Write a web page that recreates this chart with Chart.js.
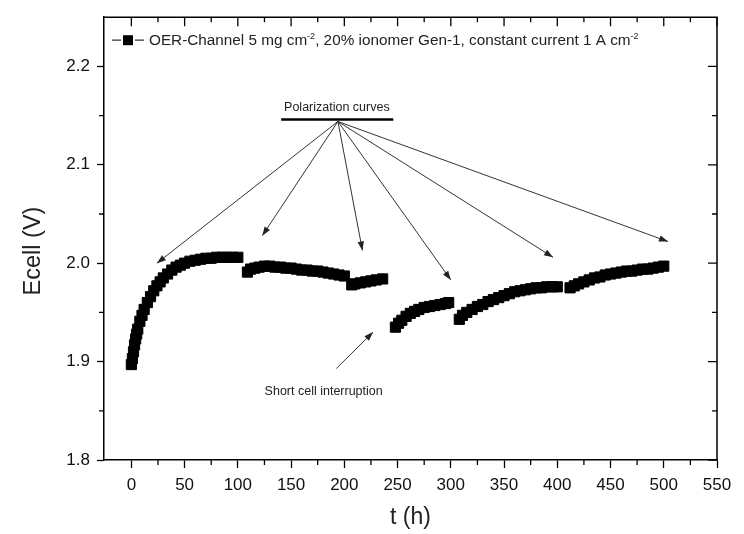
<!DOCTYPE html>
<html lang="en">
  <head>
    <meta charset="UTF-8" />
    <title>Ecell vs t - OER-Channel durability</title>
    <script src="https://cdn.jsdelivr.net/npm/chart.js"></script>
    <style>
      html,
      body {
        margin: 0;
        padding: 0;
        background: #fff;
      }
    </style>
  </head>
  <body>
    <canvas id="ecellChart" width="744" height="534"></canvas>

    <script>
      // time (h) and cell voltage (V), one pair of arrays per run segment
      const tSeg1 = [0, 1, 2, 3, 4, 5, 6, 8, 10, 12, 15, 18, 21, 24, 27, 30, 34, 38, 42, 46, 50, 55, 60, 65, 70, 75, 80, 85, 90, 95, 100];
      const vSeg1 = [1.897, 1.903, 1.91, 1.917, 1.923, 1.928, 1.933, 1.941, 1.947, 1.953, 1.96, 1.966, 1.972, 1.977, 1.981, 1.985, 1.989, 1.993, 1.996, 1.998, 2.0, 2.002, 2.003, 2.004, 2.005, 2.005, 2.006, 2.006, 2.006, 2.006, 2.006];

      const tSeg2 = [109, 112, 116, 120, 125, 130, 135, 140, 145, 150, 155, 160, 165, 170, 175, 180, 185, 190, 195, 200];
      const vSeg2 = [1.991, 1.994, 1.995, 1.996, 1.997, 1.997, 1.996, 1.996, 1.995, 1.995, 1.994, 1.993, 1.993, 1.992, 1.992, 1.991, 1.99, 1.989, 1.988, 1.987];

      const tSeg3 = [207, 210, 215, 220, 225, 230, 236];
      const vSeg3 = [1.978, 1.979, 1.98, 1.981, 1.982, 1.983, 1.984];

      const tSeg4 = [248, 251, 254, 258, 262, 266, 270, 275, 280, 285, 290, 295, 298];
      const vSeg4 = [1.935, 1.939, 1.942, 1.946, 1.949, 1.951, 1.953, 1.955, 1.956, 1.957, 1.958, 1.959, 1.96];

      const tSeg5 = [308, 311, 315, 320, 325, 330, 335, 340, 345, 350, 355, 360, 365, 370, 375, 380, 385, 390, 395, 400];
      const vSeg5 = [1.943, 1.947, 1.95, 1.953, 1.956, 1.958, 1.961, 1.963, 1.965, 1.967, 1.969, 1.971, 1.972, 1.973, 1.974, 1.975, 1.975, 1.976, 1.976, 1.976];

      const tSeg6 = [412, 416, 420, 425, 430, 435, 440, 445, 450, 455, 460, 465, 470, 475, 480, 485, 490, 495, 500];
      const vSeg6 = [1.975, 1.977, 1.979, 1.981, 1.983, 1.985, 1.986, 1.988, 1.989, 1.99, 1.991, 1.992, 1.992, 1.993, 1.994, 1.994, 1.995, 1.996, 1.997];

      const xTicks = [0, 50, 100, 150, 200, 250, 300, 350, 400, 450, 500, 550];
      const yTicks = [1.8, 1.9, 2.0, 2.1, 2.2];
      const xMinor = [25, 75, 125, 175, 225, 275, 325, 375, 425, 475, 525];
      const yMinor = [1.85, 1.95, 2.05, 2.15];

      // annotation arrows (data coordinates)
      const polOrigin = [194, 2.144];
      const polTipsT = [24, 123, 217, 300, 396, 504];
      const polTipsV = [2.0, 2.028, 2.013, 1.983, 2.006, 2.022];
      const shortFrom = [192.5, 1.893];
      const shortTo = [227, 1.93];

      const legendParts = [
        { t: "OER-Channel 5 mg cm" },
        { t: "-2", sup: true },
        { t: ", 20% ionomer Gen-1, constant current 1 A cm" },
        { t: "-2", sup: true },
      ];

      const FONT = "Arial, 'Liberation Sans', sans-serif";

      const segments = [
        [tSeg1, vSeg1],
        [tSeg2, vSeg2],
        [tSeg3, vSeg3],
        [tSeg4, vSeg4],
        [tSeg5, vSeg5],
        [tSeg6, vSeg6],
      ];
      const points = segments.flatMap(([ts, vs]) => ts.map((t, i) => ({ x: t, y: vs[i] })));

      function drawArrow(ctx, x0, y0, x1, y1) {
        ctx.beginPath();
        ctx.moveTo(x0, y0);
        ctx.lineTo(x1, y1);
        ctx.stroke();
        const a = Math.atan2(y1 - y0, x1 - x0);
        const L = 9,
          W = 3.2;
        const c = Math.cos(a),
          s = Math.sin(a);
        ctx.beginPath();
        ctx.moveTo(x1, y1);
        ctx.lineTo(x1 - L * c + W * s, y1 - L * s - W * c);
        ctx.lineTo(x1 - L * c - W * s, y1 - L * s + W * c);
        ctx.closePath();
        ctx.fill();
      }

      function drawRich(ctx, x, y, parts, size) {
        ctx.textAlign = "left";
        ctx.textBaseline = "alphabetic";
        parts.forEach((p) => {
          const sz = p.sup ? Math.round(size * 0.62) : size;
          ctx.font = sz + "px " + FONT;
          ctx.fillText(p.t, x, p.sup ? y - size * 0.42 : y);
          x += ctx.measureText(p.t).width;
        });
      }

      const decorPlugin = {
        id: "decor",
        afterDraw(chart) {
          const { ctx, chartArea: ca, scales } = chart;
          const xs = scales.x,
            ys = scales.y;
          ctx.save();
          ctx.strokeStyle = "#000";
          ctx.fillStyle = "#000";

          // top and right frame
          ctx.lineWidth = 1.5;
          ctx.beginPath();
          ctx.moveTo(ca.left, ca.top);
          ctx.lineTo(ca.right, ca.top);
          ctx.lineTo(ca.right, ca.bottom);
          ctx.stroke();

          // inward ticks on top and right, outward minor ticks bottom/left
          ctx.lineWidth = 1.3;
          ctx.beginPath();
          xTicks.forEach((v) => {
            const px = xs.getPixelForValue(v);
            ctx.moveTo(px, ca.top);
            ctx.lineTo(px, ca.top + 9);
          });
          xMinor.forEach((v) => {
            const px = xs.getPixelForValue(v);
            ctx.moveTo(px, ca.top);
            ctx.lineTo(px, ca.top + 5);
            ctx.moveTo(px, ca.bottom);
            ctx.lineTo(px, ca.bottom + 5);
          });
          yTicks.forEach((v) => {
            const py = ys.getPixelForValue(v);
            ctx.moveTo(ca.right, py);
            ctx.lineTo(ca.right - 9, py);
          });
          yMinor.forEach((v) => {
            const py = ys.getPixelForValue(v);
            ctx.moveTo(ca.right, py);
            ctx.lineTo(ca.right - 5, py);
            ctx.moveTo(ca.left, py);
            ctx.lineTo(ca.left - 5, py);
          });
          ctx.stroke();

          // legend inside plot: -■- sample then text
          const ly = ca.top + 23;
          ctx.lineWidth = 1.2;
          ctx.strokeStyle = "#333";
          ctx.beginPath();
          ctx.moveTo(ca.left + 8, ly);
          ctx.lineTo(ca.left + 17, ly);
          ctx.moveTo(ca.left + 31, ly);
          ctx.lineTo(ca.left + 40, ly);
          ctx.stroke();
          ctx.fillRect(ca.left + 19, ly - 5, 10, 10);
          ctx.fillStyle = "#222";
          drawRich(ctx, ca.left + 45, ly + 5, legendParts, 15.3);

          // polarization curve arrows
          ctx.fillStyle = "#222";
          ctx.strokeStyle = "#333";
          ctx.lineWidth = 1;
          const ox = xs.getPixelForValue(polOrigin[0]),
            oy = ys.getPixelForValue(polOrigin[1]);
          polTipsT.forEach((t, i) => {
            drawArrow(ctx, ox, oy, xs.getPixelForValue(t), ys.getPixelForValue(polTipsV[i]));
          });
          ctx.strokeStyle = "#000";
          ctx.lineWidth = 2.5;
          ctx.beginPath();
          ctx.moveTo(xs.getPixelForValue(140.7), ys.getPixelForValue(2.146));
          ctx.lineTo(xs.getPixelForValue(246), ys.getPixelForValue(2.146));
          ctx.stroke();
          ctx.font = "12.5px " + FONT;
          ctx.textAlign = "center";
          ctx.textBaseline = "alphabetic";
          ctx.fillText("Polarization curves", xs.getPixelForValue(193), ys.getPixelForValue(2.1545));

          // short cell interruption
          ctx.strokeStyle = "#333";
          ctx.lineWidth = 1;
          drawArrow(
            ctx,
            xs.getPixelForValue(shortFrom[0]),
            ys.getPixelForValue(shortFrom[1]),
            xs.getPixelForValue(shortTo[0]),
            ys.getPixelForValue(shortTo[1])
          );
          ctx.font = "12.5px " + FONT;
          ctx.fillText("Short cell interruption", xs.getPixelForValue(180.6), ys.getPixelForValue(1.866));

          // y axis title
          ctx.fillStyle = "#222";
          ctx.font = "23.5px " + FONT;
          ctx.translate(34, 251);
          ctx.rotate(-Math.PI / 2);
          ctx.textBaseline = "middle";
          ctx.fillText("Ecell (V)", 0, 0);
          ctx.restore();
        },
      };

      const ctx = document.getElementById("ecellChart").getContext("2d");
      new Chart(ctx, {
        type: "scatter",
        data: {
          datasets: [
            {
              label: "OER-Channel 5 mg cm-2, 20% ionomer Gen-1, constant current 1 A cm-2",
              data: points,
              showLine: false,
              pointStyle: "rect",
              pointRadius: 7.2,
              pointBorderWidth: 1,
              backgroundColor: "#000",
              borderColor: "#000",
            },
          ],
        },
        options: {
          responsive: false,
          animation: false,
          layout: { padding: { left: 0, top: 10, right: 27, bottom: 0 } },
          plugins: {
            legend: { display: false },
            tooltip: { enabled: false },
          },
          scales: {
            x: {
              type: "linear",
              min: -25.7,
              max: 550,
              afterBuildTicks: (s) => {
                s.ticks = xTicks.map((v) => ({ value: v }));
              },
              afterFit: (s) => {
                s.height = 74;
              },
              grid: {
                drawOnChartArea: false,
                drawTicks: true,
                tickLength: 8,
                tickWidth: 1.3,
                tickColor: "#000",
              },
              border: { display: true, color: "#000", width: 1.5 },
              ticks: {
                padding: 7,
                color: "#111",
                font: { family: FONT, size: 17 },
                maxRotation: 0,
                autoSkip: false,
              },
              title: {
                display: true,
                text: "t (h)",
                color: "#222",
                font: { family: FONT, size: 23 },
                padding: { top: 0, bottom: 3 },
              },
            },
            y: {
              min: 1.8,
              max: 2.25,
              afterBuildTicks: (s) => {
                s.ticks = yTicks.map((v) => ({ value: v }));
              },
              afterFit: (s) => {
                s.width = 104;
              },
              grid: {
                drawOnChartArea: false,
                drawTicks: true,
                tickLength: 7,
                tickWidth: 1.3,
                tickColor: "#000",
              },
              border: { display: true, color: "#000", width: 1.5 },
              ticks: {
                padding: 7,
                color: "#111",
                font: { family: FONT, size: 17 },
                callback: (v) => v.toFixed(1),
              },
            },
          },
        },
        plugins: [decorPlugin],
      });
    </script>
  </body>
</html>
